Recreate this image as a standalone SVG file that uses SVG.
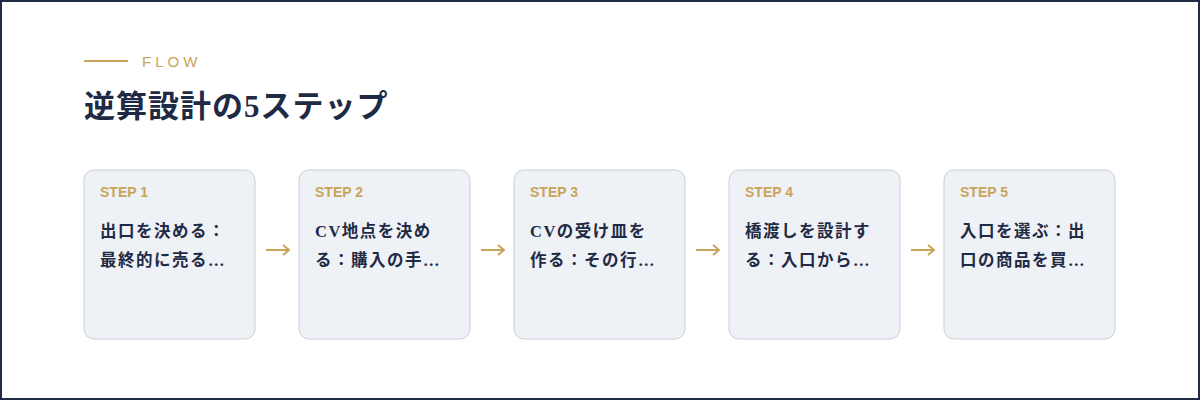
<svg xmlns="http://www.w3.org/2000/svg" width="1200" height="400" viewBox="0 0 1200 400">
<style>
.card{fill:#eef1f6;stroke:#c9ced8;stroke-width:1}
.step{font-family:"Liberation Sans","Noto Sans",sans-serif;font-size:14px;font-weight:bold;fill:#c9a55a}
.body{font-family:"Liberation Serif","Noto Sans CJK JP",serif;font-size:16.5px;font-weight:bold;fill:#1f2a44;letter-spacing:1.5px}
.arr{stroke:#c9a55a;stroke-width:2;fill:none}
</style>
<rect x="1" y="1" width="1198" height="398" fill="#fff" stroke="#1f2a44" stroke-width="2"/>
<line x1="84" y1="61" x2="128" y2="61" stroke="#c9a55a" stroke-width="2"/>
<text x="142" y="67" font-family="Liberation Sans,sans-serif" font-size="15" fill="#c9a55a" letter-spacing="4">FLOW</text>
<text x="84" y="117" font-family="Liberation Serif,'Noto Sans CJK JP',serif" font-size="31" font-weight="bold" fill="#1f2a44" letter-spacing="1">逆算設計の5ステップ</text>
<g id="connectors">
<path class="arr" d="M266 250H289M283 245L289 250L283 255"/>
<path class="arr" d="M481 250H504M498 245L504 250L498 255"/>
<path class="arr" d="M696 250H719M713 245L719 250L713 255"/>
<path class="arr" d="M911 250H934M928 245L934 250L928 255"/>
</g>
<g id="step1"><rect class="card" x="84" y="170" width="171" height="169" rx="10"/><text class="step" x="100" y="197">STEP 1</text><text class="body" x="100" y="237">出口を決める：</text><text class="body" x="100" y="266">最終的に売る…</text></g>
<g id="step2"><rect class="card" x="299" y="170" width="171" height="169" rx="10"/><text class="step" x="315" y="197">STEP 2</text><text class="body" x="315" y="237">CV地点を決め</text><text class="body" x="315" y="266">る：購入の手…</text></g>
<g id="step3"><rect class="card" x="514" y="170" width="171" height="169" rx="10"/><text class="step" x="530" y="197">STEP 3</text><text class="body" x="530" y="237">CVの受け皿を</text><text class="body" x="530" y="266">作る：その行…</text></g>
<g id="step4"><rect class="card" x="729" y="170" width="171" height="169" rx="10"/><text class="step" x="745" y="197">STEP 4</text><text class="body" x="745" y="237">橋渡しを設計す</text><text class="body" x="745" y="266">る：入口から…</text></g>
<g id="step5"><rect class="card" x="944" y="170" width="171" height="169" rx="10"/><text class="step" x="960" y="197">STEP 5</text><text class="body" x="960" y="237">入口を選ぶ：出</text><text class="body" x="960" y="266">口の商品を買…</text></g>
</svg>
